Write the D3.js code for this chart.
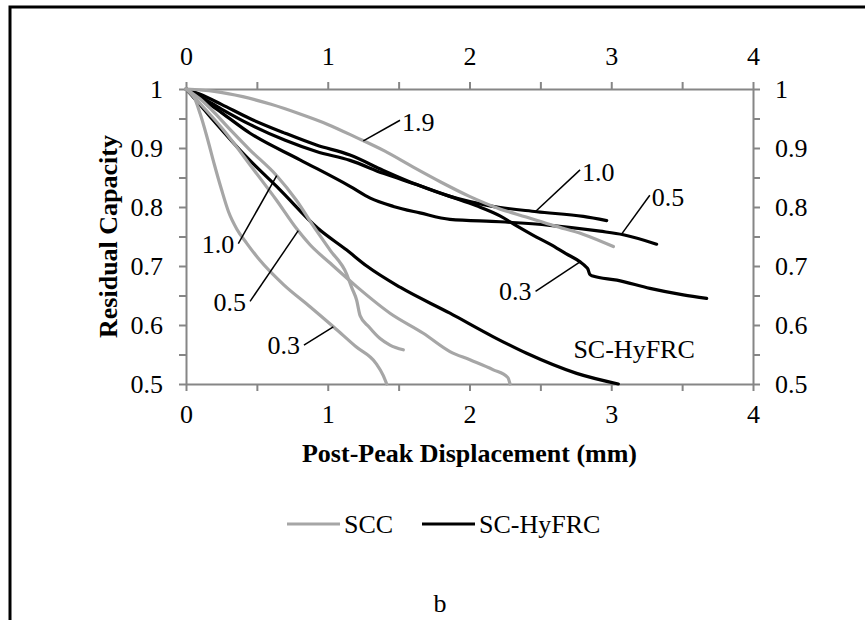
<!DOCTYPE html>
<html>
<head>
<meta charset="utf-8">
<script src="https://cdn.jsdelivr.net/npm/d3@7"></script>
<style>
  body { margin: 0; background: #fff; }
  svg { display: block; font-family: "Liberation Serif", "Times New Roman", serif; }
</style>
</head>
<body>
<svg id="chart" width="865" height="620"></svg>
<script>
// post-peak displacement (mm) vs residual capacity
const xTicks = [0, 0.5, 1, 1.5, 2, 2.5, 3, 3.5, 4];
const yTicks = [0.5, 0.55, 0.6, 0.65, 0.7, 0.75, 0.8, 0.85, 0.9, 0.95, 1];

const scc03 = [[0,1],[0.05,0.99],[0.1,0.958],[0.15,0.917],[0.2,0.872],[0.25,0.83],[0.3,0.792],[0.36,0.762],[0.43,0.738],[0.52,0.71],[0.69,0.668],[0.875,0.631],[1.04,0.597],[1.2,0.563],[1.34,0.535],[1.39,0.515],[1.416,0.5]];
const scc05 = [[0,1],[0.1,0.975],[0.263,0.931],[0.475,0.864],[0.64,0.811],[0.781,0.763],[0.875,0.736],[1.016,0.705],[1.204,0.665],[1.439,0.62],[1.674,0.586],[1.862,0.555],[2.003,0.541],[2.168,0.524],[2.27,0.511],[2.286,0.5]];
const scc10 = [[0,1],[0.1,0.983],[0.2,0.96],[0.3,0.934],[0.45,0.897],[0.64,0.853],[0.78,0.811],[0.9,0.767],[1.016,0.727],[1.134,0.686],[1.17,0.663],[1.204,0.642],[1.228,0.616],[1.29,0.597],[1.369,0.577],[1.439,0.566],[1.533,0.558]];
const scc19 = [[0,1],[0.2,0.996],[0.4,0.987],[0.6,0.974],[0.8,0.958],[1.0,0.94],[1.2,0.918],[1.4,0.895],[1.6,0.868],[1.8,0.842],[2.0,0.818],[2.2,0.798],[2.4,0.783],[2.6,0.768],[2.8,0.754],[3.015,0.733]];

const hy03 = [[0,1],[0.1,0.987],[0.25,0.966],[0.45,0.94],[0.7,0.913],[0.92,0.894],[1.157,0.879],[1.392,0.857],[1.627,0.838],[1.862,0.818],[2.05,0.802],[2.215,0.785],[2.333,0.768],[2.45,0.752],[2.568,0.737],[2.68,0.721],[2.78,0.707],[2.82,0.699],[2.835,0.695],[2.848,0.686],[2.87,0.683],[3.04,0.676],[3.273,0.662],[3.508,0.651],[3.673,0.645]];
const hy05 = [[0,1],[0.1,0.985],[0.25,0.96],[0.452,0.925],[0.804,0.88],[1.157,0.835],[1.3,0.815],[1.463,0.801],[1.65,0.79],[1.862,0.779],[2.215,0.775],[2.568,0.769],[2.921,0.759],[3.085,0.753],[3.32,0.737]];
const hy10 = [[0,1],[0.1,0.991],[0.25,0.974],[0.45,0.95],[0.7,0.925],[0.92,0.905],[1.157,0.888],[1.392,0.862],[1.627,0.838],[1.862,0.818],[2.145,0.802],[2.474,0.792],[2.803,0.784],[2.968,0.777]];
const hyLow = [[0,1],[0.1,0.973],[0.2,0.945],[0.43,0.884],[0.66,0.83],[0.93,0.764],[1.134,0.727],[1.275,0.7],[1.51,0.664],[1.862,0.62],[2.168,0.58],[2.403,0.552],[2.756,0.518],[3.05,0.5]];

const sccSeries = [scc03, scc05, scc10, scc19];
const hyfrcSeries = [hy03, hy05, hy10, hyLow];

// callout: [text, anchor (on curve), label end, text side]
const callouts = [
  ["1.9", [1.251, 0.912], [1.51, 0.947], "start"],
  ["1.0", [2.46, 0.791], [2.78, 0.863], "start"],
  ["0.5", [3.073, 0.754], [3.272, 0.82], "start"],
  ["0.3", [2.78, 0.707], [2.466, 0.657], "end"],
  ["1.0", [0.64, 0.853], [0.369, 0.738], "end"],
  ["0.5", [0.792, 0.76], [0.452, 0.64], "end"],
  ["0.3", [1.039, 0.597], [0.832, 0.566], "end"],
];

const legendItems = [
  { label: "SCC", color: "#a6a6a6" },
  { label: "SC-HyFRC", color: "#000" },
];

const svg = d3.select("#chart");
const fontSize = 26;
const axisColor = "#868686";

// frame of the figure (only top & left fall inside the picture)
svg.append("path")
  .attr("d", "M10,620V7H865")
  .attr("fill", "none")
  .attr("stroke", "#000")
  .attr("stroke-width", 3);

const x = d3.scaleLinear().domain([0, 4]).range([186, 753]);
const y = d3.scaleLinear().domain([0.5, 1]).range([384, 89]);

const xFmt = (d) => (Number.isInteger(d) ? String(d) : "");
const yFmt = (d) => {
  const r = Math.round(d * 10) / 10;
  if (Math.abs(r - d) > 1e-6) return "";
  return r === 1 ? "1" : r.toFixed(1);
};

const styleAxis = (g) => {
  g.select(".domain").attr("stroke", axisColor).attr("stroke-width", 2);
  g.selectAll(".tick line").attr("stroke", axisColor).attr("stroke-width", 2);
  g.selectAll(".tick text")
    .attr("fill", "#000")
    .attr("font-size", fontSize)
    .attr("font-family", "Liberation Serif, serif");
};

const gBottom = svg.append("g").attr("transform", `translate(0,${y(0.5)})`)
  .call(d3.axisBottom(x).tickValues(xTicks).tickFormat(xFmt).tickSizeInner(7).tickSizeOuter(0).tickPadding(14));
styleAxis(gBottom);
const gTop = svg.append("g").attr("transform", `translate(0,${y(1)})`)
  .call(d3.axisTop(x).tickValues(xTicks).tickFormat(xFmt).tickSizeInner(7).tickSizeOuter(0).tickPadding(17));
styleAxis(gTop);
const gLeft = svg.append("g").attr("transform", `translate(${x(0)},0)`)
  .call(d3.axisLeft(y).tickValues(yTicks).tickFormat(yFmt).tickSizeInner(7).tickSizeOuter(0).tickPadding(16));
styleAxis(gLeft);
const gRight = svg.append("g").attr("transform", `translate(${x(4)},0)`)
  .call(d3.axisRight(y).tickValues(yTicks).tickFormat(yFmt).tickSizeInner(7).tickSizeOuter(0).tickPadding(15));
styleAxis(gRight);

const line = d3.line()
  .x((d) => x(d[0]))
  .y((d) => y(d[1]))
  .curve(d3.curveMonotoneX);

svg.append("g")
  .selectAll("path")
  .data(hyfrcSeries)
  .join("path")
  .attr("d", line)
  .attr("fill", "none")
  .attr("stroke", "#000")
  .attr("stroke-width", 3.2)
  .attr("stroke-linecap", "round");

svg.append("g")
  .selectAll("path")
  .data(sccSeries)
  .join("path")
  .attr("d", line)
  .attr("fill", "none")
  .attr("stroke", "#a6a6a6")
  .attr("stroke-width", 3.2)
  .attr("stroke-linecap", "round");

// callouts
const cg = svg.append("g").selectAll("g").data(callouts).join("g");
cg.append("line")
  .attr("x1", (d) => x(d[1][0]))
  .attr("y1", (d) => y(d[1][1]))
  .attr("x2", (d) => x(d[2][0]))
  .attr("y2", (d) => y(d[2][1]))
  .attr("stroke", "#000")
  .attr("stroke-width", 1.5);
cg.append("text")
  .attr("x", (d) => x(d[2][0]) + (d[3] === "start" ? 2 : -4))
  .attr("y", (d) => y(d[2][1]) + (d[3] === "start" ? 2 : 0))
  .attr("dy", "0.35em")
  .attr("text-anchor", (d) => d[3])
  .attr("font-size", fontSize)
  .text((d) => d[0]);

svg.append("text")
  .attr("x", x(2.733))
  .attr("y", y(0.559))
  .attr("dy", "0.35em")
  .attr("font-size", fontSize)
  .text("SC-HyFRC");

// axis titles
svg.append("text")
  .attr("transform", `translate(117,${(y(1) + y(0.5)) / 2}) rotate(-90)`)
  .attr("text-anchor", "middle")
  .attr("font-size", fontSize)
  .attr("font-weight", "bold")
  .text("Residual Capacity");

svg.append("text")
  .attr("x", (x(0) + x(4)) / 2)
  .attr("y", 462)
  .attr("text-anchor", "middle")
  .attr("font-size", fontSize)
  .attr("font-weight", "bold")
  .text("Post-Peak Displacement (mm)");

// legend
const legendX = [287, 422];
const legendG = svg.append("g")
  .selectAll("g")
  .data(legendItems)
  .join("g")
  .attr("transform", (_, i) => `translate(${legendX[i]},524)`);
legendG.append("path")
  .attr("d", "M0,0h53")
  .attr("stroke", (d) => d.color)
  .attr("stroke-width", 3.2);
legendG.append("text")
  .attr("x", 57)
  .attr("y", 9)
  .attr("font-size", fontSize)
  .text((d) => d.label);

svg.append("text")
  .attr("x", 440)
  .attr("y", 612)
  .attr("text-anchor", "middle")
  .attr("font-size", fontSize)
  .text("b");
</script>
</body>
</html>
